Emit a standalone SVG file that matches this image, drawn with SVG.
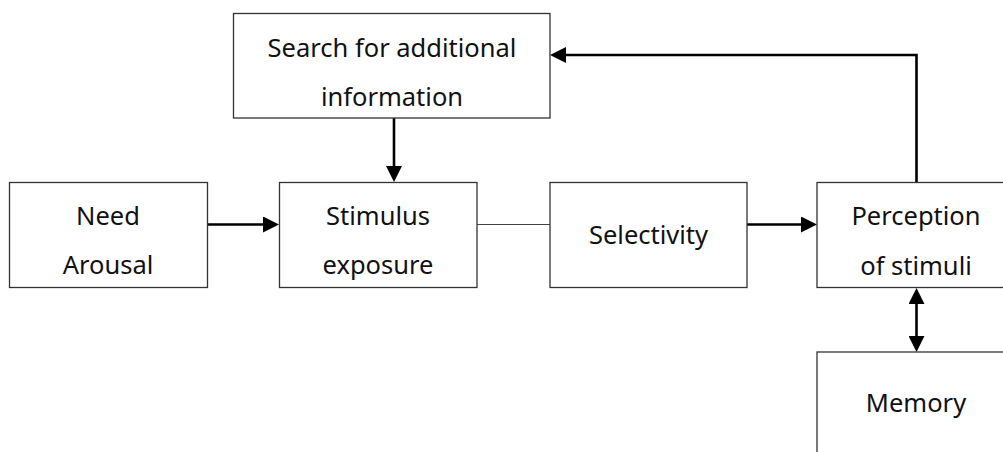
<svg xmlns="http://www.w3.org/2000/svg" width="1003" height="452" viewBox="0 0 1003 452">
  <style>
    .box { fill: #ffffff; stroke: #333333; stroke-width: 1.3; }
    .label { font-family: "Noto Sans", "DejaVu Sans", sans-serif; font-size: 25.5px; fill: #111111; text-anchor: middle; }
    .flow { fill: none; stroke: #000000; stroke-width: 2.6; }
    .thin { fill: none; stroke: #444444; stroke-width: 1.2; }
  </style>
  <defs>
    <marker id="head" markerUnits="userSpaceOnUse" markerWidth="16" markerHeight="16" viewBox="0 0 16 16" refX="8" refY="8" orient="auto-start-reverse">
      <path d="M0,0 L16,8 L0,16 Z" fill="#000000"/>
    </marker>
  </defs>

  <rect width="1003" height="452" fill="#ffffff"/>

  <!-- connectors -->
  <g id="connectors">
    <line class="flow" x1="208" y1="224.5" x2="271" y2="224.5" marker-end="url(#head)"/>
    <line class="thin" x1="477" y1="224.5" x2="550" y2="224.5"/>
    <line class="flow" x1="747" y1="224.5" x2="809" y2="224.5" marker-end="url(#head)"/>
    <line class="flow" x1="394" y1="118" x2="394" y2="174" marker-end="url(#head)"/>
    <path class="flow" d="M916.5,182 V55 H558" marker-end="url(#head)"/>
    <line class="flow" x1="916.5" y1="296" x2="916.5" y2="344" marker-start="url(#head)" marker-end="url(#head)"/>
  </g>

  <!-- nodes -->
  <g id="search">
    <rect class="box" x="233.5" y="13.5" width="316.5" height="104.5"/>
    <text class="label" x="392" y="57">Search for additional</text>
    <text class="label" x="392" y="106">information</text>
  </g>
  <g id="need">
    <rect class="box" x="9.5" y="182.5" width="198" height="105"/>
    <text class="label" x="108" y="225">Need</text>
    <text class="label" x="108" y="274">Arousal</text>
  </g>
  <g id="stimulus">
    <rect class="box" x="279.5" y="182.5" width="197.5" height="105"/>
    <text class="label" x="378" y="225">Stimulus</text>
    <text class="label" x="378" y="274">exposure</text>
  </g>
  <g id="selectivity">
    <rect class="box" x="550" y="182.5" width="197" height="105"/>
    <text class="label" x="648.5" y="244">Selectivity</text>
  </g>
  <g id="perception">
    <rect class="box" x="817" y="182.5" width="200" height="105"/>
    <text class="label" x="916" y="225">Perception</text>
    <text class="label" x="916" y="275">of stimuli</text>
  </g>
  <g id="memory">
    <rect class="box" x="817" y="352" width="200" height="110"/>
    <text class="label" x="916" y="412">Memory</text>
  </g>
</svg>
